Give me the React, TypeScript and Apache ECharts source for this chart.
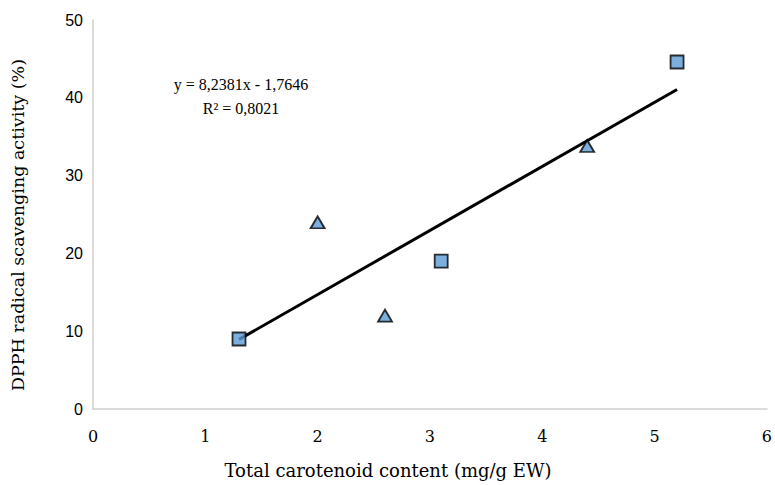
import React, { useEffect, useRef } from "react";
import * as echarts from "echarts";

const squareX = [1.3, 3.1, 5.2];
const squareY = [9, 19, 44.6];
const triangleX = [2.0, 2.6, 4.4];
const triangleY = [24, 12, 33.8];
const slope = 8.2381;
const intercept = -1.7646;
const equationText = "y = 8,2381x - 1,7646";
const r2Text = "R² = 0,8021";
const xTitle = "Total carotenoid content (mg/g EW)";
const yTitle = "DPPH radical scavenging activity (%)";

export default function App() {
  const ref = useRef<HTMLDivElement>(null);
  useEffect(() => {
    if (!ref.current) return;
    const chart = echarts.init(ref.current, null, { renderer: "svg" });
    const allX = [...squareX, ...triangleX];
    const xmin = Math.min(...allX);
    const xmax = Math.max(...allX);
    const trend = [
      [xmin, slope * xmin + intercept],
      [xmax, slope * xmax + intercept],
    ];
    const markerStyle = { color: "#5B9BD5", borderColor: "#000", borderWidth: 1.8 };
    const serif = "DejaVu Serif";
    chart.setOption({
      animation: false,
      backgroundColor: "#fff",
      grid: { left: 93, right: 8, top: 20, bottom: 76 },
      xAxis: {
        type: "value",
        min: 0,
        max: 6,
        interval: 1,
        axisLine: { lineStyle: { color: "#d0d0d0", width: 1.5 } },
        axisTick: { show: false },
        splitLine: { show: false },
        axisLabel: { fontFamily: serif, fontSize: 16, color: "#000", margin: 19 },
      },
      yAxis: {
        type: "value",
        min: 0,
        max: 50,
        interval: 10,
        axisLine: { show: true, lineStyle: { color: "#d0d0d0", width: 1.5 } },
        axisTick: { show: false },
        splitLine: { show: false },
        axisLabel: { fontFamily: "Liberation Sans", fontSize: 16, color: "#000", margin: 10 },
      },
      series: [
        {
          type: "line",
          data: trend,
          symbol: "none",
          lineStyle: { color: "#000", width: 3 },
          z: 1,
        },
        {
          type: "scatter",
          data: squareX.map((x, i) => [x, squareY[i]]),
          symbol: "rect",
          symbolSize: 13,
          itemStyle: markerStyle,
          z: 3,
        },
        {
          type: "scatter",
          data: triangleX.map((x, i) => [x, triangleY[i]]),
          symbol: "triangle",
          symbolSize: [14, 12],
          itemStyle: markerStyle,
          z: 3,
        },
      ],
      graphic: [
        {
          type: "text",
          x: 388,
          y: 470,
          style: {
            text: xTitle,
            fontFamily: serif,
            fontSize: 18,
            align: "center",
            verticalAlign: "middle",
            fill: "#000",
          },
        },
        {
          type: "text",
          x: 18,
          y: 225,
          rotation: Math.PI / 2,
          style: {
            text: yTitle,
            fontFamily: serif,
            fontSize: 17.5,
            align: "center",
            verticalAlign: "middle",
            fill: "#000",
          },
        },
        {
          type: "text",
          x: 241,
          y: 84,
          style: {
            text: equationText,
            fontFamily: "Liberation Serif",
            fontSize: 16,
            align: "center",
            verticalAlign: "middle",
            fill: "#000",
          },
        },
        {
          type: "text",
          x: 241,
          y: 108,
          style: {
            text: r2Text,
            fontFamily: "Liberation Serif",
            fontSize: 16,
            align: "center",
            verticalAlign: "middle",
            fill: "#000",
          },
        },
      ],
    });
    return () => chart.dispose();
  }, []);
  return <div ref={ref} style={{ width: 775, height: 485, position: "absolute", left: 0, top: 0 }} />;
}
